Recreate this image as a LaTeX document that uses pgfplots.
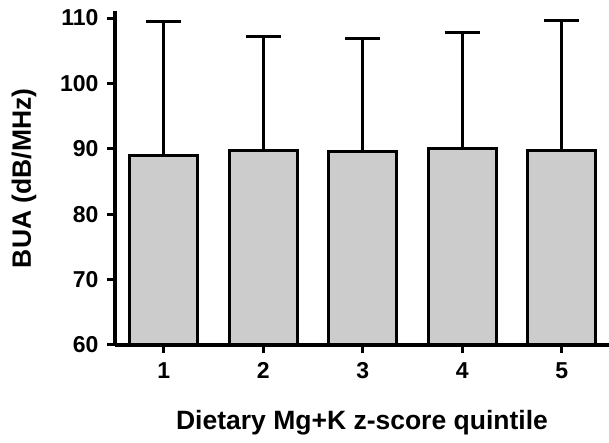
\documentclass[border=0pt]{standalone}
\usepackage{fontspec}
\setmainfont{Liberation Sans}
\usepackage{pgfplots}
\pgfplotsset{compat=1.18}

\definecolor{barfill}{HTML}{CCCCCC}

\begin{document}
\begin{tikzpicture}[x=1pt,y=1pt]
\useasboundingbox (-115,-98) rectangle (494,345);
\begin{axis}[
  at={(0,0)}, anchor=origin,
  scale only axis,
  width=494pt, height=333.5pt,
  xmin=0.51, xmax=5.475,
  ymin=60, ymax=111,
  axis x line=bottom, axis y line=left,
  axis line style={-, line width=4pt},
  axis on top,
  xtick={1,2,3,4,5},
  ytick={60,70,80,90,100,110},
  tick align=outside,
  major tick length=8pt,
  tick style={line width=3pt, black},
  /pgf/number format/assume math mode=true,
  ticklabel style={font=\bfseries\fontsize{23}{27}\selectfont},
  xticklabel style={yshift=-6pt},
  yticklabel style={xshift=-5pt},
  label style={font=\bfseries\fontsize{26.5}{31}\selectfont},
  xlabel={Dietary Mg+K z-score quintile},
  ylabel={BUA (dB/MHz)},
  xlabel style={at={(axis description cs:0.5,0)}, anchor=base, yshift=-84pt},
  ylabel style={at={(axis description cs:-0.184,0.5)}, anchor=center},
  ybar, bar width=0.68,
]
\addplot[
  draw=black, line width=3pt, fill=barfill,
  error bars/.cd, y dir=plus, y explicit,
  error bar style={line width=3pt, black},
  error mark options={rotate=90, mark size=17.5pt, line width=3pt, black},
] table[x=q, y=mean, y error=sd] {
q mean sd
1 89.0 20.5
2 89.7 17.5
3 89.6 17.3
4 90.1 17.7
5 89.8 19.8
};
\end{axis}
\end{tikzpicture}
\end{document}
